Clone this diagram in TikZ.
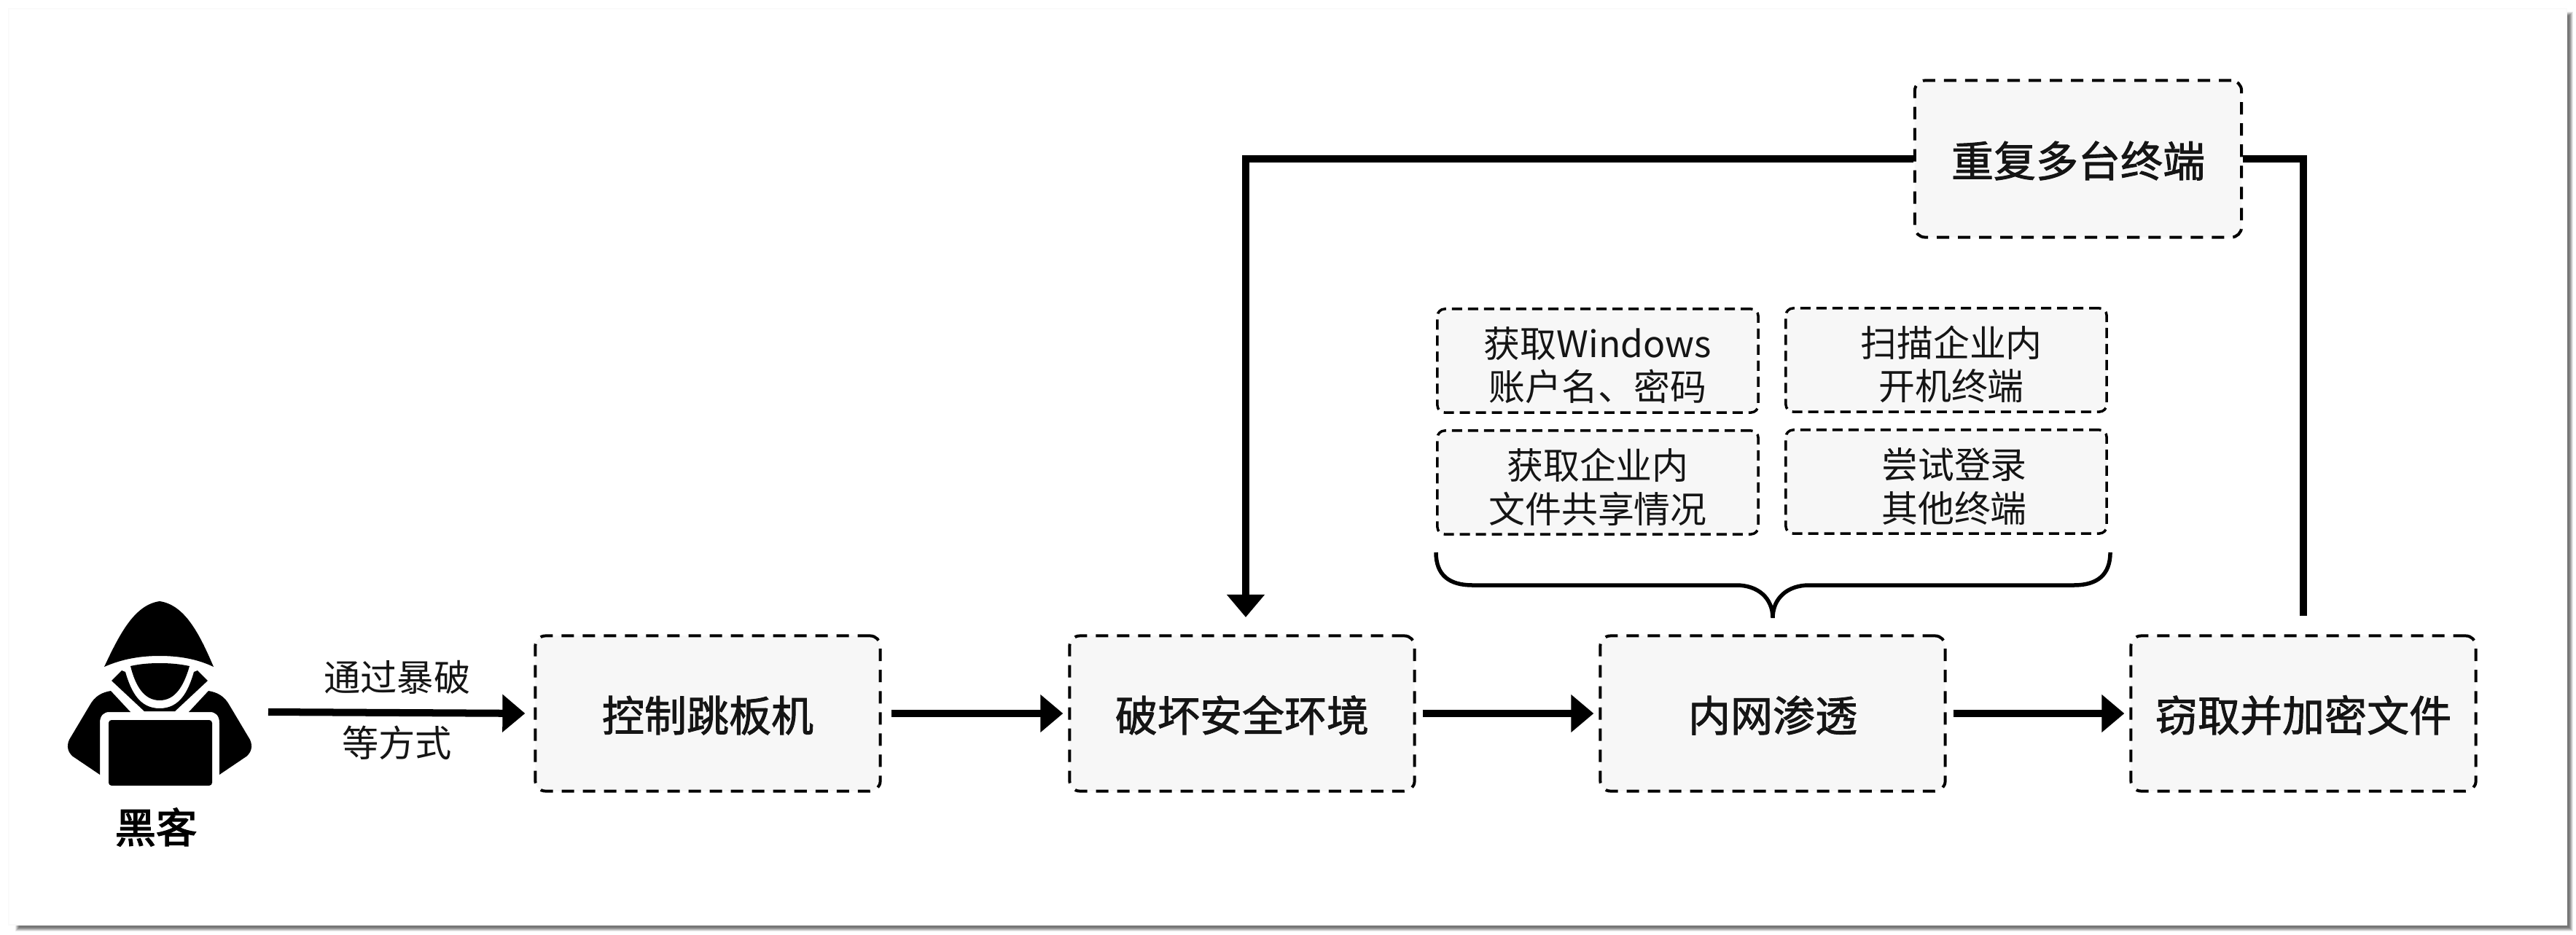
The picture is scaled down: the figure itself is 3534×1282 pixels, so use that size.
\documentclass[tikz,border=0pt]{standalone}
\usepackage{fontspec}
\setmainfont{Noto Sans CJK SC}
\newfontfamily\cjkmid[FakeBold=1.6]{Noto Sans CJK SC}
\newfontfamily\cjkhvy[FakeBold=2.6]{Noto Sans CJK SC}
\usetikzlibrary{arrows.meta}
\definecolor{boxfill}{HTML}{F7F7F7}
\definecolor{inktext}{HTML}{151515}
\newcommand\firstline{\rule{0pt}{0.55cm}}
\begin{document}
\begin{tikzpicture}[x=0.01cm,y=-0.01cm,
    bigbox/.style={draw=black,fill=boxfill,line width=0.04cm,rounded corners=0.14cm,
        dash pattern=on 0.17cm off 0.12cm,minimum width=4.73cm,minimum height=2.13cm,
        inner sep=0pt,text=inktext,font={\cjkmid\fontsize{16.5}{20}\selectfont},
        execute at begin node={\rule{0pt}{0.54cm}}},
    smallbox/.style={draw=black,fill=boxfill,line width=0.035cm,rounded corners=0.1cm,
        dash pattern=on 0.14cm off 0.08cm,minimum width=4.4cm,minimum height=1.42cm,
        inner sep=0pt,align=center,text=inktext,font={\fontsize{14.2}{16.8}\selectfont}},
    flow/.style={line width=0.1cm,-{Triangle[length=0.31cm,width=0.5cm]},
        shorten >=0.07cm},
    feed/.style={line width=0.1cm},
    side/.style={inner sep=0pt,text=inktext,font={\fontsize{14.3}{17}\selectfont}}]
\useasboundingbox (0,0) rectangle (3534,1282);
% page frame with its shadow
\foreach \d/\g in {9/8,8/18,7/28,6/38,5/46,4/52,3/54}
    \fill[black!\g] (30-\d,25-\d) rectangle (3521+\d,1269+\d);
\filldraw[fill=white,draw=black!2,line width=0.02cm] (12,12) rectangle (3521,1269);
% hacker icon
\node[minimum width=2.52cm,minimum height=2.52cm,inner sep=0pt] (hacker) at (219,952) {};
\fill (143,915) .. controls (165,868) and (185,830) .. (219,825) .. controls (253,830) and (273,868) .. (293,915)
    .. controls (270,904) and (245,900) .. (219,900) .. controls (193,900) and (168,904) .. (143,915) -- cycle;
\fill (179,914) .. controls (192,911) and (205,910) .. (219,910) .. controls (233,910) and (246,911) .. (260,914)
    .. controls (252,942) and (240,961) .. (219,961) .. controls (198,961) and (186,942) .. (179,914) -- cycle;
\fill (153,934) -- (167,920) -- (172,922) .. controls (180,950) and (192,972) .. (219,972)
    .. controls (246,972) and (258,950) .. (266,922) -- (271,920) -- (285,934) -- (240,976) -- (198,976) -- cycle;
\fill (152,948) .. controls (140,950) and (130,955) .. (123,968) -- (95,1015) .. controls (91,1024) and (93,1032) .. (100,1038)
    -- (137,1063) -- (137,992) .. controls (137,982) and (142,977) .. (150,977) -- (179,977) -- cycle;
\fill (286,948) .. controls (298,950) and (308,955) .. (315,968) -- (343,1015) .. controls (347,1024) and (345,1032) .. (338,1038)
    -- (301,1063) -- (301,992) .. controls (301,982) and (296,977) .. (288,977) -- (259,977) -- cycle;
\fill[rounded corners=0.04cm] (149,988) rectangle (291,1078);
\node[inner sep=0pt,font={\cjkhvy\fontsize{16}{20}\selectfont}] (hackername) at (214,1135) {黑客};
% main row
\node[bigbox] (jump) at (971,979) {控制跳板机};
\node[bigbox] (breach) at (1704,979) {破坏安全环境};
\node[bigbox] (intranet) at (2432,979) {内网渗透};
\node[bigbox] (steal) at (3160,979) {窃取并加密文件};
\node[bigbox,minimum width=4.48cm,minimum height=2.15cm] (repeat) at (2851,218) {重复多台终端};
% small steps of the intranet stage
\node[smallbox] (account) at (2192,495) {\firstline 获取Windows\\账户名、密码};
\node[smallbox] (scan) at (2670,494) {\firstline\hspace*{0.14cm}扫描企业内\\\hspace*{0.14cm}开机终端};
\node[smallbox] (share) at (2192,662) {\firstline 获取企业内\\文件共享情况};
\node[smallbox] (login) at (2670,661) {\firstline\hspace*{0.22cm}尝试登录\\\hspace*{0.22cm}其他终端};
\draw[line width=0.055cm] (1970,758) .. controls (1970,789) and (1988,803) .. (2020,803) -- (2382,803)
    .. controls (2412,803) and (2432,821) .. (2432,848) .. controls (2432,821) and (2452,803) .. (2482,803)
    -- (2845,803) .. controls (2877,803) and (2895,789) .. (2895,758);
% connectors
\coordinate (hackerout) at (368,977);
\coordinate (breachin) at (1709,847);
\draw[flow,shorten >=0.12cm] (hackerout) -- (jump.west) node[side,pos=0.485,yshift=0.49cm] (byforce) {通过暴破}
    node[side,pos=0.485,yshift=-0.41cm] (andsuch) {等方式};
\draw[flow,shorten <=0.13cm] (jump) -- (breach);
\draw[flow,shorten <=0.09cm] (breach) -- (intranet);
\draw[flow,shorten <=0.09cm] (intranet) -- (steal);
\draw[flow,shorten >=0pt] (repeat.west) -| (breachin);
\draw[feed,shorten <=0.25cm] (steal.north) |- (repeat.east);
\end{tikzpicture}
\end{document}
